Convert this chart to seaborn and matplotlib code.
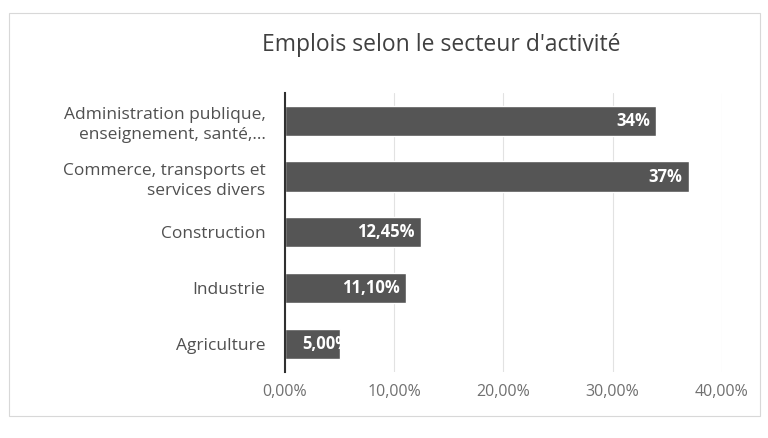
import numpy as np
import pandas as pd
import matplotlib
matplotlib.use("Agg")
import matplotlib.pyplot as plt
import seaborn as sns

secteurs = ["Administration publique,\nenseignement, santé,...",
            "Commerce, transports et\nservices divers",
            "Construction", "Industrie", "Agriculture"]
parts = [34, 37, 12.45, 11.10, 5.00]
etiquettes = ["34%", "37%", "12,45%", "11,10%", "5,00%"]
ticks = [0, 10, 20, 30, 40]
tick_labels = ["0,00%", "10,00%", "20,00%", "30,00%", "40,00%"]

df = pd.DataFrame({"Secteur": secteurs, "Part": parts})

sns.set_theme(style="white")
plt.rcParams['font.family'] = ['Open Sans', 'DejaVu Sans']

fig = plt.figure(figsize=(7.68, 4.38), dpi=100)
ax = fig.add_axes([0.371, 0.151, 0.569, 0.637])

sns.barplot(data=df, x="Part", y="Secteur", orient="h", color="#555555",
            saturation=1, width=0.54, ax=ax)

ax.set_xlim(0, 40)
ax.set_ylim(4.5, -0.5)
ax.set_xticks(ticks)
ax.set_xticklabels(tick_labels, fontsize=11.5, color="#707070")
ax.tick_params(axis="y", labelsize=12.5, labelcolor="#505050", length=0, pad=14)
ax.tick_params(axis="x", length=0, pad=9)
for lbl in ax.get_yticklabels():
    lbl.set_horizontalalignment("right")
    lbl.set_linespacing(1.35)
ax.set_xlabel("")
ax.set_ylabel("")
ax.grid(axis="x", color="#e2e2e2", linewidth=0.8)
ax.set_axisbelow(True)
for s in ["top", "right", "bottom"]:
    ax.spines[s].set_visible(False)
ax.spines["left"].set_color("#303030")
ax.spines["left"].set_linewidth(1.5)

for bar, txt in zip(ax.patches, etiquettes):
    w = bar.get_width()
    t = ax.text(w - 0.6, bar.get_y() + bar.get_height() / 2, txt,
                ha="right" if w > 6 else "left", va="center",
                color="white", fontsize=12, fontweight="bold")
    if w <= 6:
        t.set_x(1.6)
        t.set_clip_path(bar)

fig.text(0.575, 0.897, "Emplois selon le secteur d'activité", ha="center",
         va="center", fontsize=16.5, color="#404040")

fig.patches.append(plt.Rectangle((0.012, 0.05), 0.978, 0.92, transform=fig.transFigure,
                                 fill=False, edgecolor="#d8d8d8", linewidth=0.8))

fig.savefig("out.png", dpi=100, facecolor="white")
